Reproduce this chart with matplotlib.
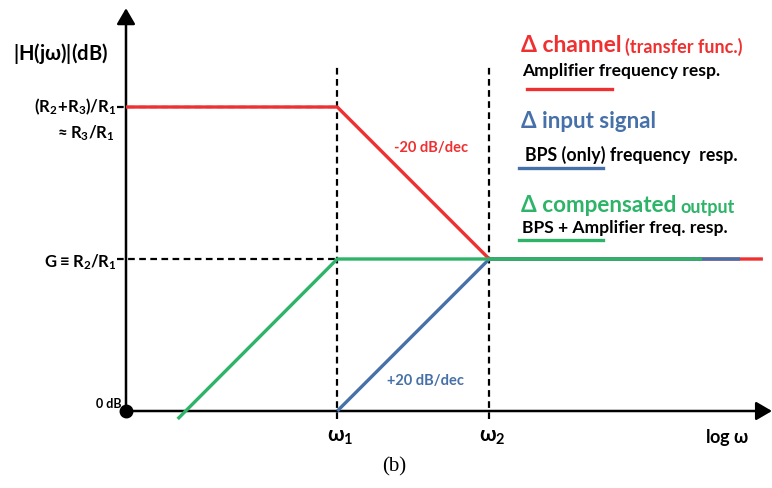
import matplotlib
matplotlib.use("Agg")
import matplotlib.pyplot as plt
from matplotlib.patches import FancyArrowPatch

plt.rcParams['font.family'] = ['Lato', 'DejaVu Sans']
plt.rcParams['mathtext.default'] = 'regular'

# ---- data (x in decades of log w, y in dB) ----
omega_labels = [r"$\omega_1$", r"$\omega_2$"]
omega_pos = [1.39, 2.39]
level_labels = [r"$(R_2\!+\!R_3)/R_1$", r"$\approx R_3/R_1$", r"$G \equiv R_2/R_1$", "0 dB"]
level_db = [40, 20, 0]

red_x = [0, 1.39, 2.39, 4.19]
red_y = [40, 40, 20, 20]
blue_x = [1.39, 2.39, 4.04]
blue_y = [0, 20, 20]
green_x = [0.34, 1.39, 3.79]
green_y = [-1.05, 20, 20]

RED = '#EE3030'
BLUE = '#4670A8'
GREEN = '#2DB468'

W, H = 772, 489
fig = plt.figure(figsize=(W / 100, H / 100), dpi=100)
ax = fig.add_axes([0, 0, 1, 1])
px_per_dec = 152.0
px_per_db = 7.6
x0p, y0p = 126, 412
ax.set_xlim(-x0p / px_per_dec, (W - x0p) / px_per_dec)
ax.set_ylim(-(H - y0p) / px_per_db, y0p / px_per_db)
ax.axis('off')

def P(xp, yp):
    return xp / W, 1 - yp / H

# dashed guides
for xv in omega_pos:
    ax.plot([xv, xv], [-1.1, 45.3], color='black', lw=1.6, ls=(0, (3, 2)), zorder=2)
for yv in level_db[:2]:
    ax.plot([-0.06, omega_pos[0]], [yv, yv], color='black', lw=1.6, ls=(0, (3, 2)), zorder=2)

# axes with arrows
ax.add_patch(FancyArrowPatch((0, 0), (0, 53.0), arrowstyle='-|>,head_length=6,head_width=3.5',
                             color='black', lw=1.8, mutation_scale=1.6, zorder=3, shrinkA=0, shrinkB=0))
ax.add_patch(FancyArrowPatch((0, 0), (4.25, 0), arrowstyle='-|>,head_length=6,head_width=3.5',
                             color='black', lw=1.8, mutation_scale=1.6, zorder=3, shrinkA=0, shrinkB=0))
ax.plot([0], [0], 'o', color='black', ms=9, zorder=6)

# curves
ax.plot(red_x, red_y, color=RED, lw=2.4, zorder=4, solid_capstyle='butt')
ax.plot(blue_x, blue_y, color=BLUE, lw=2.4, zorder=4.5, solid_capstyle='butt')
ax.plot(green_x, green_y, color=GREEN, lw=2.4, zorder=5, solid_capstyle='butt')

# texts
fig.text(*P(61, 53), r"|H(j$\omega$)|(dB)", ha='center', va='center', fontsize=14.5, fontweight='bold')
fig.text(*P(117, 107), level_labels[0], ha='right', va='center', fontsize=12, fontweight='bold')
fig.text(*P(115, 133), level_labels[1], ha='right', va='center', fontsize=12, fontweight='bold')
fig.text(*P(117, 262), level_labels[2], ha='right', va='center', fontsize=12, fontweight='bold')
fig.text(*P(121, 404), level_labels[3], ha='right', va='center', fontsize=9, fontweight='bold')

for lab, xv in zip(omega_labels, omega_pos):
    ax.text(xv + 0.02, -3.3, lab, ha='center', va='center', fontsize=15, fontweight='bold')
fig.text(*P(727, 438), r"log $\omega$", ha='center', va='center', fontsize=13, fontweight='bold')
fig.text(*P(394, 467), "(b)", ha='center', va='center', fontsize=15, family='Liberation Serif')

fig.text(*P(431, 148), "-20 dB/dec", ha='center', va='center', fontsize=10.5, fontweight='bold', color=RED)
fig.text(*P(426, 381), "+20 dB/dec", ha='center', va='center', fontsize=10.5, fontweight='bold', color=BLUE)

# legend block
fig.text(*P(521, 45), "Δ channel ", ha='left', va='center', fontsize=16.5, fontweight='bold', color=RED)
fig.text(*P(625, 47), "(transfer func.)", ha='left', va='center', fontsize=13, fontweight='bold', color=RED)
fig.text(*P(522, 71), "Amplifier frequency resp.", ha='left', va='center', fontsize=12.6, fontweight='bold')
fig.add_artist(plt.Line2D([527 / W, 612 / W], [1 - 90 / H] * 2, color=RED, lw=2.4))

fig.text(*P(521, 121), "Δ input signal", ha='left', va='center', fontsize=16, fontweight='bold', color=BLUE)
fig.text(*P(525, 155), "BPS (only) frequency  resp.", ha='left', va='center', fontsize=12.8, fontweight='bold')
fig.add_artist(plt.Line2D([519 / W, 603 / W], [1 - 169 / H] * 2, color=BLUE, lw=2.4))

fig.text(*P(521, 206), "Δ compensated", ha='left', va='center', fontsize=16.2, fontweight='bold', color=GREEN)
fig.text(*P(680, 208), "output", ha='left', va='center', fontsize=13, fontweight='bold', color=GREEN)
fig.text(*P(522, 228), "BPS + Amplifier freq. resp.", ha='left', va='center', fontsize=12.6, fontweight='bold')
fig.add_artist(plt.Line2D([519 / W, 603 / W], [1 - 241 / H] * 2, color=GREEN, lw=2.4))

fig.savefig("out.png", dpi=100)
